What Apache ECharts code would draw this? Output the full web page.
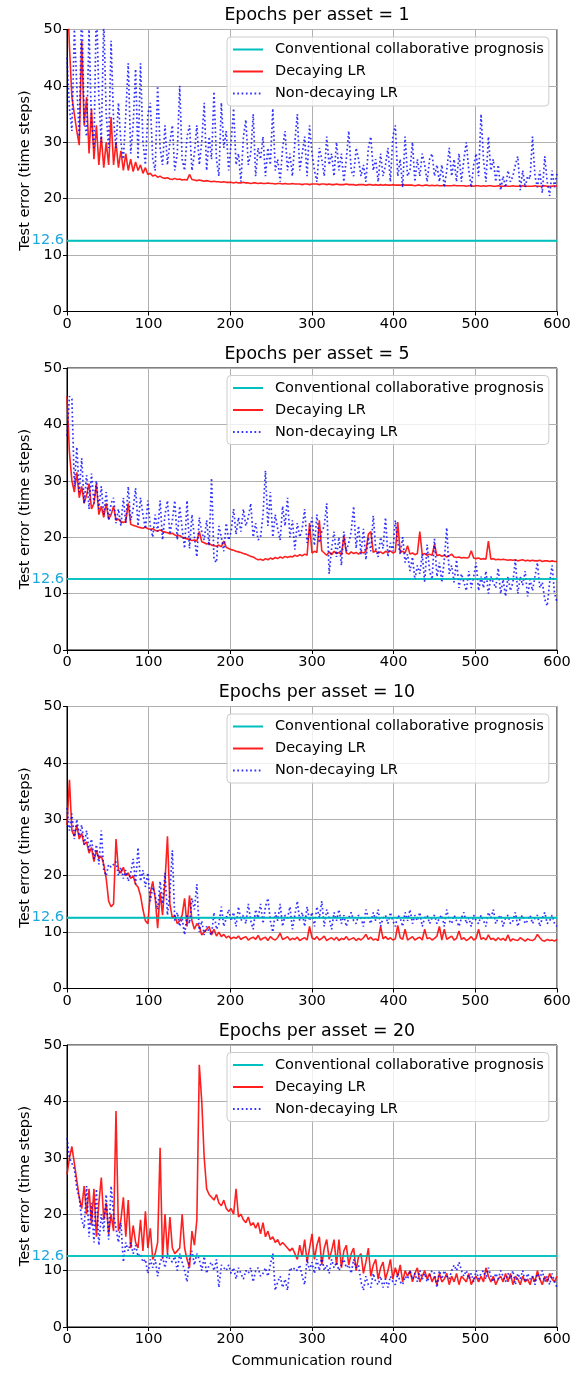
<!DOCTYPE html>
<html>
<head>
<meta charset="utf-8">
<title>Test error vs communication round</title>
<script src="https://cdn.jsdelivr.net/npm/echarts@6/dist/echarts.min.js"></script>
<style>
  html, body { margin: 0; padding: 0; background: #fff; }
  #chart { width: 581px; height: 1373px; }
</style>
</head>
<body>
<div id="chart"></div>
<script>
// 每 3 轮取一个点: 0, 3, ..., 600 (每行 10 个点 = 30 轮)
var epochs = [1, 5, 10, 20];
var baseline = 12.6;
var rounds = [];
for (var r = 0; r <= 600; r += 3) rounds.push(r);

// Epochs per asset = 1
var decay1 = [
  58, 47, 38, 35, 32, 29.5, 48, 33, 38, 28,
  36, 27, 33, 26, 31, 25.5, 30, 26, 34.5, 26,
  30, 25.5, 28.5, 25, 28, 25, 27, 24.8, 26.5, 25,
  26, 24.5, 25.5, 24.3, 24.5, 24, 24.2, 23.8, 24, 23.7,
  23.6, 23.7, 23.5, 23.4, 23.6, 23.4, 23.5, 23.3, 23.4, 23.3,
  24.3, 23.4, 23.3, 23.2, 23.3, 23.2, 23.1, 23.2, 23.1, 23.0,
  23.1, 23.0, 23.0, 22.9, 23.0, 22.9, 22.9, 22.9, 22.8, 22.9,
  22.8, 22.8, 22.9, 22.8, 22.8, 22.7, 22.8, 22.8, 22.7, 22.8,
  22.7, 22.7, 22.8, 22.7, 22.7, 22.6, 22.7, 22.7, 22.6, 22.7,
  22.6, 22.6, 22.7, 22.6, 22.6, 22.6, 22.5, 22.6, 22.6, 22.5,
  22.6, 22.6, 22.6, 22.5, 22.6, 22.6, 22.5, 22.6, 22.5, 22.5,
  22.6, 22.5, 22.5, 22.5, 22.6, 22.5, 22.5, 22.5, 22.4, 22.5,
  22.5, 22.5, 22.4, 22.5, 22.5, 22.4, 22.5, 22.4, 22.5, 22.4,
  22.5, 22.4, 22.4, 22.5, 22.4, 22.4, 22.4, 22.5, 22.4, 22.4,
  22.4, 22.4, 22.3, 22.4, 22.4, 22.3, 22.4, 22.4, 22.3, 22.4,
  22.3, 22.4, 22.3, 22.3, 22.4, 22.3, 22.3, 22.3, 22.4, 22.3,
  22.3, 22.3, 22.3, 22.2, 22.3, 22.3, 22.2, 22.3, 22.3, 22.2,
  22.3, 22.2, 22.3, 22.3, 22.2, 22.2, 22.3, 22.2, 22.2, 22.3,
  22.2, 22.2, 22.3, 22.2, 22.2, 22.2, 22.3, 22.2, 22.2, 22.2,
  22.2, 22.3, 22.2, 22.2, 22.2, 22.3, 22.2, 22.2, 22.2, 22.3,
  22.2
];
var nodecay1 = [
  45, 36, 32, 50, 40, 31, 55, 34, 31, 50,
  33, 29, 55, 38, 30, 52, 35, 29, 48, 34,
  29, 37, 30, 27, 35, 44, 28, 33, 43, 27,
  44, 30, 26, 35, 37, 27, 25, 40, 29, 26,
  33, 26, 30, 33, 25, 28, 40, 27, 25, 31,
  33, 25, 28, 33, 26, 30, 37, 25, 31, 27,
  39, 27, 24, 37, 29, 32, 25, 30, 36, 26,
  28, 23, 31, 34, 26, 28, 35, 24, 29, 27,
  31, 24, 29, 26, 36, 25, 27, 23, 29, 32,
  25, 28, 24, 30, 35, 25, 28, 31, 24, 33,
  28, 25, 23, 29, 27, 24, 31, 26, 28, 24,
  30, 25, 28, 23, 27, 32, 25, 24, 29, 27,
  24, 26, 23, 29, 31, 25, 27, 23, 28, 24,
  26, 29, 23, 31, 33, 24, 27, 22, 31, 24,
  25, 30, 23, 27, 24, 28, 26, 23, 27, 28,
  24, 26, 23, 26, 22, 25, 29, 24, 27, 23,
  28, 23, 27, 30, 25, 22, 26, 28, 24, 35,
  27, 23, 31, 25, 27, 23, 26, 21.5, 24, 22,
  25, 23, 24, 26, 27.5, 21.5, 25, 22, 24, 23.5,
  31, 24, 22, 25, 21, 27.5, 23, 20.5, 25, 22,
  24.5
];

// Epochs per asset = 5
var decay5 = [
  45, 35, 30, 28, 31.5, 27, 29, 26, 27.5, 29.5,
  25, 26, 29.5, 24, 25.5, 23.5, 26, 23.2, 24, 25.5,
  23, 23.2, 22.8, 22.6, 22.8, 26, 22.3, 22.1, 22.0, 21.8,
  21.7, 21.6, 21.8, 21.5, 21.4, 21.5, 21.2, 21.1, 21.3, 21.0,
  20.9, 20.8, 20.6, 20.7, 20.4, 20.2, 20.3, 20.0, 19.8, 19.7,
  19.6, 19.4, 19.5, 19.3, 21, 19.2, 19.0, 18.8, 18.9, 18.6,
  18.5, 18.4, 18.6, 18.3, 19.3, 18.2, 18.0, 17.8, 17.7, 17.5,
  17.4, 17.3, 17.1, 17.0, 16.8, 16.6, 16.5, 16.2, 16.0, 16.1,
  15.9, 16.2, 16.0, 16.3, 16.1, 16.4, 16.2, 16.5, 16.3, 16.6,
  16.4, 16.6, 16.5, 16.8, 16.6, 16.9, 16.7, 17.0, 16.8, 22.5,
  17.2, 17.5, 17.3, 23, 17.6, 17.2, 16.8, 17.4, 16.9, 17.5,
  17.1, 17.3, 16.9, 20.2, 17.2, 17.0, 17.4, 17.1, 17.3, 17.0,
  17.4, 17.2, 17.5, 20.5, 21, 17.3, 17.6, 17.2, 17.4, 17.1,
  17.5, 17.3, 17.6, 17.2, 17.4, 22.7, 17.3, 17.5, 17.2, 18.5,
  17.0, 17.2, 16.9, 17.1, 21, 16.9, 17.1, 16.8, 17.0, 16.8,
  18.7, 16.7, 16.9, 16.6, 16.8, 16.5, 16.7, 17.0, 16.5, 16.4,
  16.5, 16.3, 16.4, 16.3, 16.4, 17.6, 16.3, 16.2, 16.3, 16.1,
  16.2, 16.1, 19.3, 16.1, 16.2, 16.0, 16.1, 16.0, 16.1, 16.0,
  15.9, 16.0, 15.9, 16.0, 15.8, 15.9, 16.0, 15.8, 15.9, 15.8,
  15.9, 15.8, 15.8, 15.9, 15.7, 15.8, 15.8, 15.7, 15.8, 15.7,
  15.7
];
var nodecay5 = [
  38, 45, 44.5, 29, 36, 28, 34, 26, 31, 25,
  31.3, 26, 30, 25, 29, 24, 28, 23, 26, 27,
  22.5, 25, 22, 27, 22.5, 29, 23, 25, 28.7, 22,
  27, 24, 21.5, 26.5, 22, 20, 24, 21, 26.5, 19.5,
  24, 26.5, 20.5, 23, 26.5, 19.5, 25.5, 21.5, 18, 26.5,
  18, 24, 20, 16.5, 23.5, 21, 19.5, 23, 18.5, 30.5,
  16, 15.5, 22, 20, 17.5, 22.5, 19.5, 21, 25, 20.5,
  23.5, 21, 25, 22, 23.5, 26, 20, 22.5, 19.5, 20,
  24, 31.8, 22, 28, 20, 24, 21.5, 19.5, 25.5, 22,
  27, 20, 23, 17.8, 22.5, 20, 21.5, 25, 19, 21,
  23.5, 18.5, 24, 19, 21, 22, 26, 13.5, 18, 21,
  16.5, 20, 15, 21, 17.5, 19, 21, 25.5, 18, 22,
  17, 21.5, 16, 20, 17.5, 23.8, 18, 16.5, 20, 18,
  23.5, 16.5, 19, 17.5, 23, 19, 17, 20, 15.5, 17,
  14, 16.5, 12.5, 15, 13.5, 17, 12, 18.7, 14, 12.5,
  19.7, 13, 15.5, 12, 16, 21.7, 13.5, 15, 12, 16,
  11, 13.5, 12, 10.5, 14, 11, 13, 15.5, 10.5, 13,
  11, 14, 10, 13, 12, 11, 14.5, 10, 12.5, 9.5,
  13, 10.5, 12, 16, 10, 13, 11.5, 14, 9.5, 12.5,
  10.5, 13, 15.5, 11, 12, 9, 7.8, 12, 15, 10,
  8.5
];

// Epochs per asset = 10
var decay10 = [
  29, 37, 28, 27, 29, 26.5, 27.5, 25.5, 26, 24,
  25, 22.5, 24.5, 23, 23.5, 22, 19.5, 15.5, 14.5, 15,
  26.5, 21, 20.5, 21.5, 20, 20.5, 19.5, 20, 18.5, 18,
  16.5, 14, 12, 11.5, 17, 19, 16, 10.7, 17, 13,
  19, 27, 15, 12.5, 13, 11.5, 12, 13, 16, 11,
  16.5, 12, 10.5, 11.5, 11, 9.5, 10, 10.5, 11, 9.5,
  10.5, 9.3, 10, 9.2, 9.6, 9.0, 9.3, 8.8, 9.1, 8.9,
  9.3, 8.7, 9.0, 9.2, 8.6, 8.9, 9.1, 8.7, 9.4, 8.6,
  8.9, 9.1, 8.5, 9.2, 8.8, 8.6, 9.0, 9.8, 8.7, 8.9,
  9.2, 8.6, 8.9, 8.7, 9.1, 8.5, 8.8, 9.0, 8.6, 11,
  9.0, 8.7, 9.2, 8.6, 8.9, 9.3, 8.5, 8.8, 9.0, 8.6,
  9.1, 8.5, 8.9, 8.7, 9.2, 8.6, 8.8, 9.0, 8.5, 8.9,
  8.6, 9.0, 9.6, 8.7, 9.1, 8.6, 8.8, 8.5, 11, 8.8,
  9.2, 8.7, 9.0, 8.6, 8.8, 11.2, 9.0, 8.7, 10.5, 8.6,
  8.9, 9.2, 8.6, 8.9, 9.1, 8.6, 10.5, 8.8, 9.0, 8.6,
  8.9, 9.3, 11, 8.6, 10.5, 8.7, 9.0, 9.3, 8.6, 8.9,
  10.2, 8.7, 9.0, 8.5, 8.8, 9.2, 8.6, 8.9, 10.5, 8.7,
  9.0, 8.6, 9.5, 8.7, 8.9, 8.5, 9.0, 8.6, 8.9, 8.5,
  9.5, 8.4, 8.8, 8.6, 8.5, 9.0, 8.7, 8.4, 8.8, 8.6,
  8.5, 8.8, 9.6, 9.0, 8.5, 8.4, 8.7, 8.5, 8.6, 8.4,
  8.7
];
var nodecay10 = [
  32, 28, 31, 26.5, 30, 27, 29, 25.5, 28, 24.5,
  26.5, 23, 25.5, 22, 28, 21, 20, 22, 21.5, 22,
  22.5, 20, 21.5, 19.5, 21, 19, 20.5, 23, 18.5, 25,
  19, 21, 18, 20.5, 15.5, 18, 16.5, 14, 19, 15,
  20.5, 13, 17, 24.5, 12, 13.5, 11, 12.5, 9.5, 13,
  11.5, 16, 14, 18.5, 10, 12, 9.5, 11, 10, 9.5,
  13.5, 10.5, 11.5, 14.5, 11, 12.5, 14, 12, 13.5, 11,
  14.5, 12, 13, 11.5, 15, 12, 10.5, 14, 12.5, 15,
  11.5, 14.5, 16, 12, 10, 13.5, 12, 15, 11, 13,
  12.5, 14.5, 10.5, 13, 15.5, 12, 13.5, 11, 14.5, 12,
  13.5, 11, 14.5, 12.5, 15.5, 11, 14, 12.5, 10.5, 13.5,
  12, 14, 11.5, 13, 11, 12.5, 13.5, 12, 11.5, 13,
  12.5, 11, 14, 12.5, 11.5, 13.5, 12, 14, 11, 12.5,
  13, 11.5, 13.5, 12, 11, 13, 12.5, 11, 13.5, 12,
  14, 11.5, 13, 12, 13.5, 11, 12.5, 13, 11.5, 12.5,
  13, 11.5, 12.5, 13, 11, 14, 12, 11.5, 13, 12,
  11, 12.5, 13.5, 11.5, 12.5, 11, 13, 12, 11.5, 13,
  12, 11, 13.5, 12.5, 14, 11.5, 12.5, 13, 11, 12.5,
  13, 11.5, 12, 13.5, 11, 12.5, 13, 11.5, 12, 13,
  11.5, 12.5, 13, 11, 12.5, 13.5, 11.5, 12, 13, 11.5,
  11
];

// Epochs per asset = 20
var decay20 = [
  27, 30, 32, 29, 26, 23, 21, 25, 20, 24.5,
  18, 24.5, 16, 22, 26.5, 19, 22, 16.5, 20, 17,
  38.3, 17, 19, 23, 16, 22.5, 14, 18, 15, 14,
  19, 13.5, 20.5, 14, 17.5, 12, 13, 15, 31.8, 12,
  20, 13, 19.5, 14, 13, 13.5, 14, 20, 14, 12,
  10.5, 17, 14.5, 19, 46.5, 40, 30, 24.5, 23.5, 23,
  22.5, 23.5, 22, 21.5, 22.5, 21, 20.5, 21, 20, 24.5,
  19.5, 20, 19, 18.5, 19.5, 18, 18.5, 17.5, 18.5, 16.5,
  18.5, 16, 17, 15.5, 16, 15, 15.5, 14.5, 15, 14.5,
  14, 13.5, 14, 13, 12, 14.5, 12.5, 15.5, 11.5, 14,
  16.5, 12, 14.5, 16, 11, 14, 15.5, 12, 13.5, 15.5,
  11, 15.5, 10.5, 13.5, 14.5, 11, 13, 14, 10, 12.5,
  13, 9.5, 11.5, 14, 9, 11, 12, 8.5, 10.5, 11.5,
  8.5, 10, 12, 8.5, 10.5, 9, 11, 8, 10, 9,
  10, 8, 9.5, 10.5, 8, 9, 10, 8.5, 9.5, 8,
  9, 7.5, 9.5, 8, 8.5, 9.5, 7.5, 9, 8, 9.5,
  7.5, 9, 8.5, 8, 9.5, 7.5, 8.5, 9, 8, 9,
  8, 10.5, 9, 8, 9, 7.5, 8.5, 9, 8, 9.5,
  8, 9.5, 7.5, 9, 8.5, 7.5, 9, 8, 8.5, 7.5,
  9, 8, 10, 8.5, 7.5, 9, 8, 9.5, 8.5, 8,
  9
];
var nodecay20 = [
  33.5, 30, 29, 28, 24.5, 23, 19, 17.5, 25, 16,
  22, 15, 24.5, 14.5, 20, 17, 23.5, 15.5, 25, 20,
  17.5, 15, 18.5, 11.5, 15, 13.5, 15, 13, 14.5, 12.5,
  13, 11.5, 12, 9.5, 12, 10.5, 12, 9, 11.5, 12.5,
  10.5, 13, 12, 11.5, 12.5, 10, 13, 11.5, 10, 8,
  12, 13.5, 11, 13, 12, 10, 12.5, 9.5, 11, 11.5,
  10, 12, 7, 11, 10.5, 10, 11, 9.5, 10.5, 8.5,
  10.5, 9.5, 8.5, 10, 9.5, 10.5, 8, 10, 10.5, 9,
  9.5, 10.5, 9, 11, 13, 6.5, 8, 9, 7, 8.5,
  6.5, 10.5, 10, 10.5, 10, 11, 9, 7.5, 12, 10,
  11.5, 9.5, 12, 10, 12.5, 10, 11, 9.5, 12, 10.5,
  11.5, 10, 11, 12, 10.5, 11, 9.5, 12, 10.5, 11,
  8, 6.5, 9, 7.5, 7, 9.5, 8, 7.5, 9, 7,
  8.5, 7, 9, 8, 7.5, 9.5, 8, 7.5, 9, 8.5,
  10, 8.5, 9.5, 8, 10, 8.5, 9.5, 8, 9, 10,
  9.5, 7, 10, 8.5, 10, 9, 8.5, 10, 11, 10,
  11.5, 10, 9, 10, 8.5, 9.5, 8, 10, 8.5, 9.5,
  10, 8.5, 10.5, 9, 8, 9.5, 8.5, 10, 9, 8,
  9.5, 8.5, 10, 7.5, 9.5, 8.5, 10, 8, 9.5, 8.5,
  9, 7.5, 9.5, 8.5, 10, 8, 9, 7.5, 9.5, 8,
  7
];

var decaySets = [decay1, decay5, decay10, decay20];
var nodecaySets = [nodecay1, nodecay5, nodecay10, nodecay20];

(function() {
  var myChart = echarts.init(document.getElementById("chart"), null, { renderer: "canvas" });
  var font = "DejaVu Sans";
  var fs = 14.5; // 刻度 / 图例 / 轴名字号
  var gridTops = [29.5, 368, 706.5, 1045];
  var names = ["Conventional collaborative prognosis", "Decaying LR", "Non-decaying LR"];

  function pairs(arr) {
    return arr.map(function(v, i) { return [rounds[i], v]; });
  }

  var grid = [], xAxis = [], yAxis = [], title = [], legend = [], series = [];

  for (var i = 0; i < 4; i++) {
    var top = gridTops[i];
    grid.push({
      left: 67, top: top, width: 490, height: 282,
      show: true, borderColor: "#000", borderWidth: 1, backgroundColor: "transparent"
    });
    title.push({
      text: "Epochs per asset = " + epochs[i],
      left: 312, top: top - 27.5, textAlign: "center",
      textStyle: { fontFamily: font, fontSize: 17.4, fontWeight: "normal", color: "#000" }
    });
    xAxis.push({
      gridIndex: i, type: "value", min: 0, max: 600, interval: 100,
      name: i === 3 ? "Communication round" : "",
      nameLocation: "middle", nameGap: 27,
      nameTextStyle: { fontFamily: font, fontSize: fs, color: "#000" },
      axisLine: { show: true, onZero: false, lineStyle: { color: "#000", width: 1 } },
      axisTick: { show: true, length: 4, lineStyle: { color: "#000" } },
      axisLabel: { fontFamily: font, fontSize: fs, color: "#000", margin: 5 },
      splitLine: { show: true, lineStyle: { color: "#b0b0b0", width: 1 } }
    });
    yAxis.push({
      gridIndex: i, type: "value", min: 0, max: 50, interval: 10,
      name: "Test error (time steps)",
      nameLocation: "middle", nameGap: 33,
      nameTextStyle: { fontFamily: font, fontSize: fs, color: "#000" },
      axisLine: { show: true, onZero: false, lineStyle: { color: "#000", width: 1 } },
      axisTick: { show: true, length: 4, lineStyle: { color: "#000" } },
      axisLabel: { fontFamily: font, fontSize: fs, color: "#000", margin: 5 },
      splitLine: { show: true, lineStyle: { color: "#b0b0b0", width: 1 } }
    });
    legend.push({
      data: names,
      orient: "vertical",
      left: 227, top: top + 7.5,
      itemWidth: 30, itemHeight: 14, itemGap: 7,
      padding: [5, 5, 5, 5],
      backgroundColor: "rgba(255,255,255,0.8)",
      borderColor: "#cccccc", borderWidth: 1, borderRadius: 4,
      // 图例里只要线, 不要圆点
      itemStyle: { opacity: 0 },
      textStyle: { fontFamily: font, fontSize: fs, color: "#000", padding: [0, 0, 0, 7] },
      selectedMode: false
    });

    // 基准线 12.6
    series.push({
      name: names[0], type: "line", xAxisIndex: i, yAxisIndex: i,
      data: [[0, baseline], [600, baseline]],
      symbol: "none", color: "#00bfbf",
      lineStyle: { color: "#00bfbf", width: 1.6 },
      markLine: {
        silent: true, symbol: "none",
        lineStyle: { color: "#00bfbf", width: 1.6, type: "solid" },
        label: {
          show: true, position: "start", distance: 3, formatter: "12.6",
          fontFamily: font, fontSize: fs, color: "#1ea7dc"
        },
        data: [{ yAxis: baseline }]
      }
    });
    series.push({
      name: names[1], type: "line", xAxisIndex: i, yAxisIndex: i,
      data: pairs(decaySets[i]),
      symbol: "none", color: "rgba(255,0,0,0.88)",
      lineStyle: { color: "rgba(255,0,0,0.88)", width: 1.6 }
    });
    series.push({
      name: names[2], type: "line", xAxisIndex: i, yAxisIndex: i,
      data: pairs(nodecaySets[i]),
      symbol: "none", color: "rgba(0,0,255,0.8)",
      lineStyle: { color: "rgba(0,0,255,0.8)", width: 1.7, type: [1.7, 2.6] }
    });
  }

  var option = {
    animation: false,
    backgroundColor: "#fff",
    title: title,
    legend: legend,
    grid: grid,
    xAxis: xAxis,
    yAxis: yAxis,
    series: series
  };
  myChart.setOption(option);
  window.addEventListener("resize", function() {
    myChart.resize();
  });
})();
</script>
</body>
</html>
